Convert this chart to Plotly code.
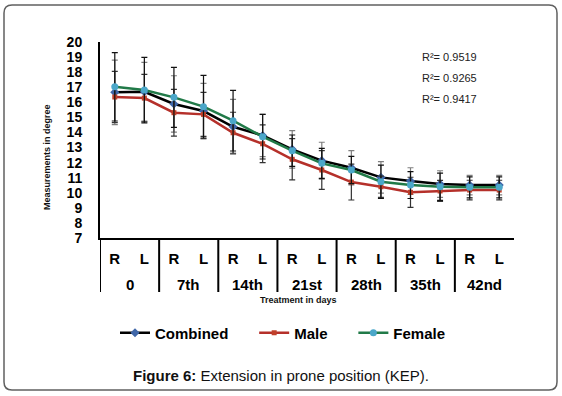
import plotly.graph_objects as go

days = ["0", "7th", "14th", "21st", "28th", "35th", "42nd"]
sides = ["R", "L"]

combined = [16.66, 16.70, 15.89, 15.42, 14.38, 13.80, 12.88, 12.13, 11.66, 11.02, 10.78, 10.58, 10.51, 10.51]
combined_err = [2.14, 1.95, 1.87, 1.84, 1.82, 1.40, 1.24, 1.22, 1.13, 1.04, 0.88, 0.88, 0.65, 0.65]
male = [16.35, 16.28, 15.31, 15.20, 13.98, 13.25, 12.22, 11.51, 10.71, 10.40, 10.03, 10.12, 10.18, 10.18]
male_err = [1.70, 1.57, 1.55, 1.46, 1.36, 1.25, 1.37, 1.28, 1.19, 0.70, 1.00, 0.70, 0.65, 0.65]
female = [17.03, 16.81, 16.33, 15.71, 14.78, 13.72, 12.79, 11.95, 11.51, 10.73, 10.51, 10.40, 10.36, 10.36]
female_err = [2.27, 2.17, 1.99, 2.08, 2.01, 1.48, 1.04, 1.00, 0.90, 1.11, 0.89, 0.90, 0.70, 0.70]
r2_labels = ["R²= 0.9519", "R²= 0.9265", "R²= 0.9417"]
y_ticks = list(range(7, 21))

inner = [s for _ in days for s in sides]
xpos = list(range(len(inner)))

FONT = "Liberation Sans, Arial, sans-serif"
PAD = "\u00a0" * 5

fig = go.Figure()
fig.add_trace(go.Scatter(
    x=xpos, y=combined, name="Combined" + PAD, mode="lines+markers",
    line=dict(color="#000000", width=2.5),
    marker=dict(symbol="diamond", size=7, color="#3f66a8"),
    error_y=dict(type="data", array=combined_err, color="#7f7f7f", thickness=1.2, width=3),
))
fig.add_trace(go.Scatter(
    x=xpos, y=male, name="Male" + PAD, mode="lines+markers",
    line=dict(color="#b5302a", width=2.5),
    marker=dict(symbol="square", size=5, color="#c0402a"),
    error_y=dict(type="data", array=male_err, color="#333333", thickness=1.2, width=3),
))
fig.add_trace(go.Scatter(
    x=xpos, y=female, name="Female", mode="lines+markers",
    line=dict(color="#217a48", width=2.5),
    marker=dict(symbol="circle", size=7, color="#4ba7c9"),
    error_y=dict(type="data", array=female_err, color="#111111", thickness=1.2, width=3),
))

W, H = 562, 396
L, R, T, B = 100, 48, 42, 158
pw, ph = W - L - R, H - T - B

def px(x):
    return (x - L) / pw

def py(y):
    return (H - B - y) / ph

# rounded border
x0, x1, y0, y1, r = 4, 557, 5, 390, 8
path = (
    f"M {px(x0 + r)} {py(y0)} L {px(x1 - r)} {py(y0)} "
    f"Q {px(x1)} {py(y0)} {px(x1)} {py(y0 + r)} "
    f"L {px(x1)} {py(y1 - r)} Q {px(x1)} {py(y1)} {px(x1 - r)} {py(y1)} "
    f"L {px(x0 + r)} {py(y1)} Q {px(x0)} {py(y1)} {px(x0)} {py(y1 - r)} "
    f"L {px(x0)} {py(y0 + r)} Q {px(x0)} {py(y0)} {px(x0 + r)} {py(y0)} Z"
)
fig.add_shape(type="path", path=path, xref="paper", yref="paper",
              line=dict(color="#606060", width=1.5), layer="below")

# table dividers and day labels under the axis
for i, d in enumerate(days):
    fig.add_shape(type="line", xref="x", yref="paper", x0=2 * i - 0.5, x1=2 * i - 0.5,
                  y0=py(238), y1=py(292), line=dict(color="#000000", width=2))
    fig.add_annotation(text=d, xref="x", yref="paper", x=2 * i + 0.5, y=py(284),
                       xanchor="center", yanchor="middle", showarrow=False,
                       font=dict(family=FONT, size=15, color="#000000", weight="bold"))

for i, t in enumerate(r2_labels):
    fig.add_annotation(text=t, xref="paper", yref="paper", x=px(420), y=py(57 + 21 * i),
                       xanchor="left", yanchor="middle", showarrow=False,
                       font=dict(family=FONT, size=11, color="#222222"))

fig.add_annotation(text="<b>Treatment in days</b>", xref="paper", yref="paper",
                   x=px(298), y=py(300), xanchor="center", yanchor="middle", showarrow=False,
                   font=dict(family=FONT, size=9, color="#111111"))
fig.add_annotation(text="<b>Measurements in degree</b>", xref="paper", yref="paper",
                   x=px(47), y=py(157), xanchor="center", yanchor="middle", showarrow=False,
                   textangle=-90, font=dict(family=FONT, size=9, color="#111111"))
fig.add_annotation(text="<b>Figure 6:</b> Extension in prone position (KEP).", xref="paper", yref="paper",
                   x=px(281), y=py(375), xanchor="center", yanchor="middle", showarrow=False,
                   font=dict(family=FONT, size=15, color="#111111"))

fig.update_layout(
    width=W, height=H, margin=dict(l=L, r=R, t=T, b=B),
    paper_bgcolor="white", plot_bgcolor="white",
    font=dict(family=FONT, color="#000000"),
    showlegend=True,
    legend=dict(orientation="h", x=px(115), y=py(333), xanchor="left", yanchor="middle",
                font=dict(family=FONT, size=15, color="#000000", weight="bold"), itemwidth=30,
                bgcolor="rgba(0,0,0,0)"),
    xaxis=dict(range=[-0.5, len(inner) - 0.5], tickmode="array", tickvals=xpos, ticktext=inner,
               showline=True, linecolor="#000000", linewidth=2,
               showgrid=False, zeroline=False, ticks="outside", ticklen=6,
               tickcolor="rgba(0,0,0,0)",
               tickfont=dict(family=FONT, size=15, color="#000000", weight="bold")),
    yaxis=dict(range=[7, 20], tickmode="array", tickvals=y_ticks, showline=True,
               linecolor="#000000", linewidth=2,
               showgrid=False, zeroline=False, ticks="outside", ticklen=13,
               tickcolor="rgba(0,0,0,0)",
               tickfont=dict(family=FONT, size=14, color="#000000", weight="bold")),
)

fig.write_html("out.html", config={"displayModeBar": False},
               post_script="document.body.style.margin='0';")
